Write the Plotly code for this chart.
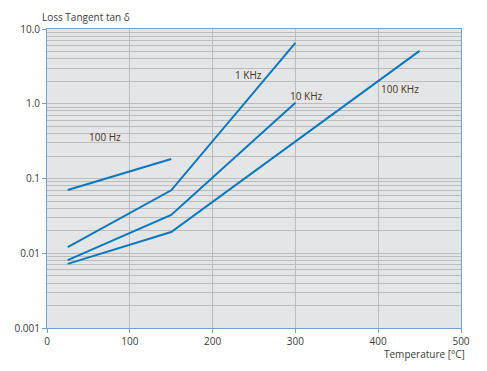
import plotly.graph_objects as go
import math

# Data
temp_100hz = [25, 150]
tan_100hz = [0.070, 0.182]
temp_1khz = [25, 150, 300]
tan_1khz = [0.0121, 0.0695, 6.5]
temp_10khz = [25, 150, 300]
tan_10khz = [0.0081, 0.0325, 1.03]
temp_100khz = [25, 150, 450]
tan_100khz = [0.0072, 0.0192, 5.1]

series_names = ["100 Hz", "1 KHz", "10 KHz", "100 KHz"]
label_x = [70, 243, 313, 426]
label_y = [0.36, 2.43, 1.27, 1.57]

x_ticks = [0, 100, 200, 300, 400, 500]
y_ticks = [0.001, 0.01, 0.1, 1, 10]
y_ticktext = ["0.001", "0.01", "0.1", "1.0", "10.0"]
y_minor = [m * 10 ** e for e in range(-3, 1) for m in range(2, 10)]

LINE = "#0a78be"
GRID = "#bcbcbc"
AXIS = "#6fa3d6"
TXT = "#3a3a3a"
LBL = "#4a3520"
FONT = "Open Sans"

fig = go.Figure()
for xs, ys, nm in zip([temp_100hz, temp_1khz, temp_10khz, temp_100khz],
                      [tan_100hz, tan_1khz, tan_10khz, tan_100khz], series_names):
    fig.add_trace(go.Scatter(x=xs, y=ys, mode="lines", name=nm,
                             line=dict(color=LINE, width=2), showlegend=False))

for nm, lx, ly in zip(series_names, label_x, label_y):
    fig.add_annotation(x=lx, y=math.log10(ly), xref="x", yref="y", text=nm,
                       showarrow=False, font=dict(family=FONT, size=10, color=LBL))

fig.add_annotation(x=0.095, y=1.04, xref="paper", yref="paper", text="Loss Tangent tan δ",
                   showarrow=False, xanchor="center", yanchor="middle",
                   font=dict(family=FONT, size=10, color=TXT))
fig.add_annotation(x=0.912, y=-0.087, xref="paper", yref="paper", text="Temperature [°C]",
                   showarrow=False, xanchor="center", yanchor="middle",
                   font=dict(family=FONT, size=10, color=TXT))

fig.update_layout(
    width=487, height=371,
    margin=dict(l=39, r=34, t=21, b=51),
    paper_bgcolor="white", plot_bgcolor="#e4e5e7",
    font=dict(family=FONT, size=10, color=TXT),
)
fig.update_xaxes(range=[0, 500], tickvals=x_ticks, showgrid=True, gridcolor=GRID, gridwidth=1,
                 zeroline=False, showline=True, linecolor=AXIS, linewidth=1, mirror=True,
                 ticks="outside", ticklen=4, tickcolor=AXIS, automargin=False,
                 tickfont=dict(family=FONT, size=10, color=TXT))
fig.update_yaxes(type="log", range=[-3, 1], tickvals=y_ticks, ticktext=y_ticktext,
                 showgrid=True, gridcolor=GRID, gridwidth=1,
                 minor=dict(tickvals=y_minor, showgrid=True, gridcolor=GRID, gridwidth=1, ticklen=0),
                 zeroline=False, showline=True, linecolor=AXIS, linewidth=1, mirror=True,
                 ticks="outside", ticklen=4, tickcolor=AXIS, automargin=False,
                 tickfont=dict(family=FONT, size=10, color=TXT))

fig.write_html("out.html")
